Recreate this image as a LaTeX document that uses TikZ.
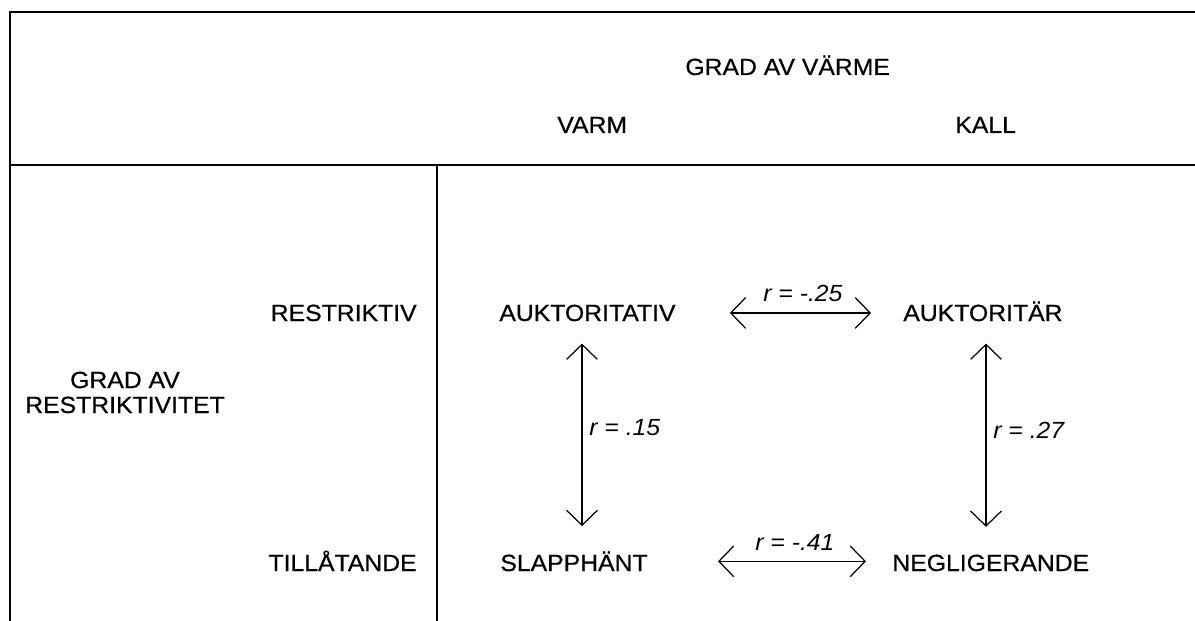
\documentclass[tikz,border=0pt]{standalone}
\usepackage{fontspec}
\setmainfont{Liberation Sans}[FakeStretch=1.06,UprightFeatures={FakeBold=0.6}]
\usetikzlibrary{arrows.meta}

\begin{document}
\begin{tikzpicture}[x=0.02cm,y=-0.02cm,
  txt/.style={inner sep=0pt,font=\fontsize{13.3}{14.2}\selectfont},
  rtxt/.style={inner sep=0pt,font=\fontsize{13.3}{14.2}\selectfont\itshape},
  rule/.style={line width=1pt},
  corr/.style={line width=0.7pt,{Straight Barb[length=8.5pt,width=17.5pt]}-{Straight Barb[length=8.5pt,width=17.5pt]}}]
\useasboundingbox (0,0) rectangle (1195,621);
% table lines
\draw[rule](1195,12)--(10,12)--(10,621);
\draw[rule](10,165)--(1195,165);
\draw[rule](437,165)--(437,621);
% headings
\node[txt,anchor=base west] (varme) at (685,75) {GRAD AV VÄRME};
\node[txt,anchor=base west] (varm) at (557,133) {VARM};
\node[txt,anchor=base west] (kall) at (955,133) {KALL};
\node[txt,anchor=base east] (restriktiv) at (417,321) {RESTRIKTIV};
\node[txt,anchor=base east] (tillatande) at (417,571) {TILLÅTANDE};
\node[txt,align=center,anchor=base] (restr) at (125,413) {GRAD AV\\RESTRIKTIVITET};
% styles
\node[txt,anchor=base west] (auktoritativ) at (499,321) {AUKTORITATIV};
\node[txt,anchor=base west] (auktoritar) at (903,321) {AUKTORITÄR};
\node[txt,anchor=base west] (slapphant) at (500,571) {SLAPPHÄNT};
\node[txt,anchor=base west] (negligerande) at (892,571) {NEGLIGERANDE};
% correlations
\draw[corr,shorten <=1.08cm,shorten >=0.64cm](auktoritativ.east)--(auktoritativ.east -| auktoritar.west);
\draw[corr,shorten <=1.4cm,shorten >=0.52cm](slapphant.east)--(slapphant.east -| negligerande.west);
\draw[corr,shorten <=0.44cm,shorten >=0.5cm]([xshift=1.66cm]auktoritativ.south west)--([xshift=1.66cm]auktoritativ.south west |- slapphant.north);
\draw[corr,shorten <=0.44cm,shorten >=0.55cm]([xshift=1.66cm]auktoritar.south west)--([xshift=1.66cm]auktoritar.south west |- negligerande.north);
\node[rtxt,anchor=base west] (r1) at (763,301) {r = -.25};
\node[rtxt,anchor=base west] (r2) at (755,550) {r = -.41};
\node[rtxt,anchor=base west] (r3) at (589,435) {r = .15};
\node[rtxt,anchor=base west] (r4) at (993,438) {r = .27};
\end{tikzpicture}
\end{document}
